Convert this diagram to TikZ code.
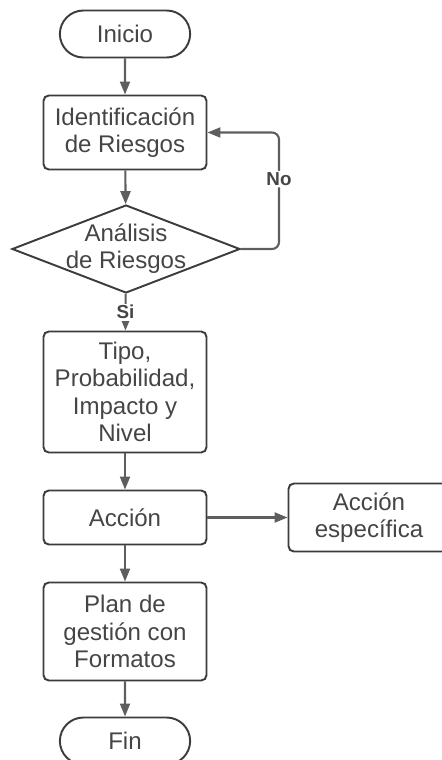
\documentclass[tikz,border=0pt]{standalone}
\usepackage{fontspec}
\setmainfont{Liberation Sans}
\usepackage{tikz}
\usetikzlibrary{shapes.geometric,shapes.misc,arrows.meta}
\definecolor{borde}{HTML}{3C3C3C}
\definecolor{flecha}{HTML}{5E5E5E}
\definecolor{texto}{HTML}{454545}

\begin{document}
\begin{tikzpicture}[
                x=0.02cm, y=-0.02cm,
                every node/.style={text=texto, font=\fontsize{13.7}{15.5}\selectfont, align=center},
                terminal/.style={rounded rectangle, draw=borde, line width=1.1pt, minimum width=2.84cm, minimum height=0.94cm},
                proceso/.style={rectangle, rounded corners=3pt, draw=borde, line width=1.1pt, minimum width=3.26cm},
                decision/.style={diamond, draw=borde, line width=1.1pt, aspect=2.6, inner sep=-2pt, minimum width=4.56cm, minimum height=1.76cm},
                conector/.style={draw=flecha, line width=1.2pt, -{Triangle[length=0.26cm, width=0.2cm]}},
                etiqueta/.style={fill=white, inner sep=1pt, font=\fontsize{10.7}{12}\selectfont\bfseries}
            ]
            \clip (0,0) rectangle (442,760);

            \node[terminal] (inicio) at (125,34) {Inicio};
            \node[proceso, minimum height=1.48cm] (identificacion) at (125,132.5) {Identificación\\de Riesgos};
            \node[decision] (analisis) at (126,249) {Análisis\\de Riesgos};
            \node[proceso, minimum height=2.42cm] (tipo) at (125,392) {Tipo,\\Probabilidad,\\Impacto y\\Nivel};
            \node[proceso, minimum height=1.08cm] (accion) at (125,517.5) {Acción};
            \node[proceso, minimum height=1.36cm, minimum width=3.22cm] (especifica) at (369,517.5) {Acción\\específica};
            \node[proceso, minimum height=1.96cm] (plan) at (125,631.5) {Plan de\\gestión con\\Formatos};
            \node[terminal] (fin) at (125,741) {Fin};

            \coordinate (vuelta) at (279,190);

            \draw[conector] (inicio) -- (identificacion);
            \draw[conector] (identificacion) -- (analisis);
            \draw[conector] (analisis) -- node[etiqueta]{Si} (tipo);
            \draw[conector, rounded corners=4pt] (analisis.east) -- (vuelta |- analisis.east)
                -- node[etiqueta, pos=0.6]{No} (vuelta |- identificacion.east) -- (identificacion.east);
            \draw[conector] (tipo) -- (accion);
            \draw[conector] (accion) -- (especifica);
            \draw[conector] (accion) -- (plan);
            \draw[conector] (plan) -- (fin);
        \end{tikzpicture}
\end{document}
